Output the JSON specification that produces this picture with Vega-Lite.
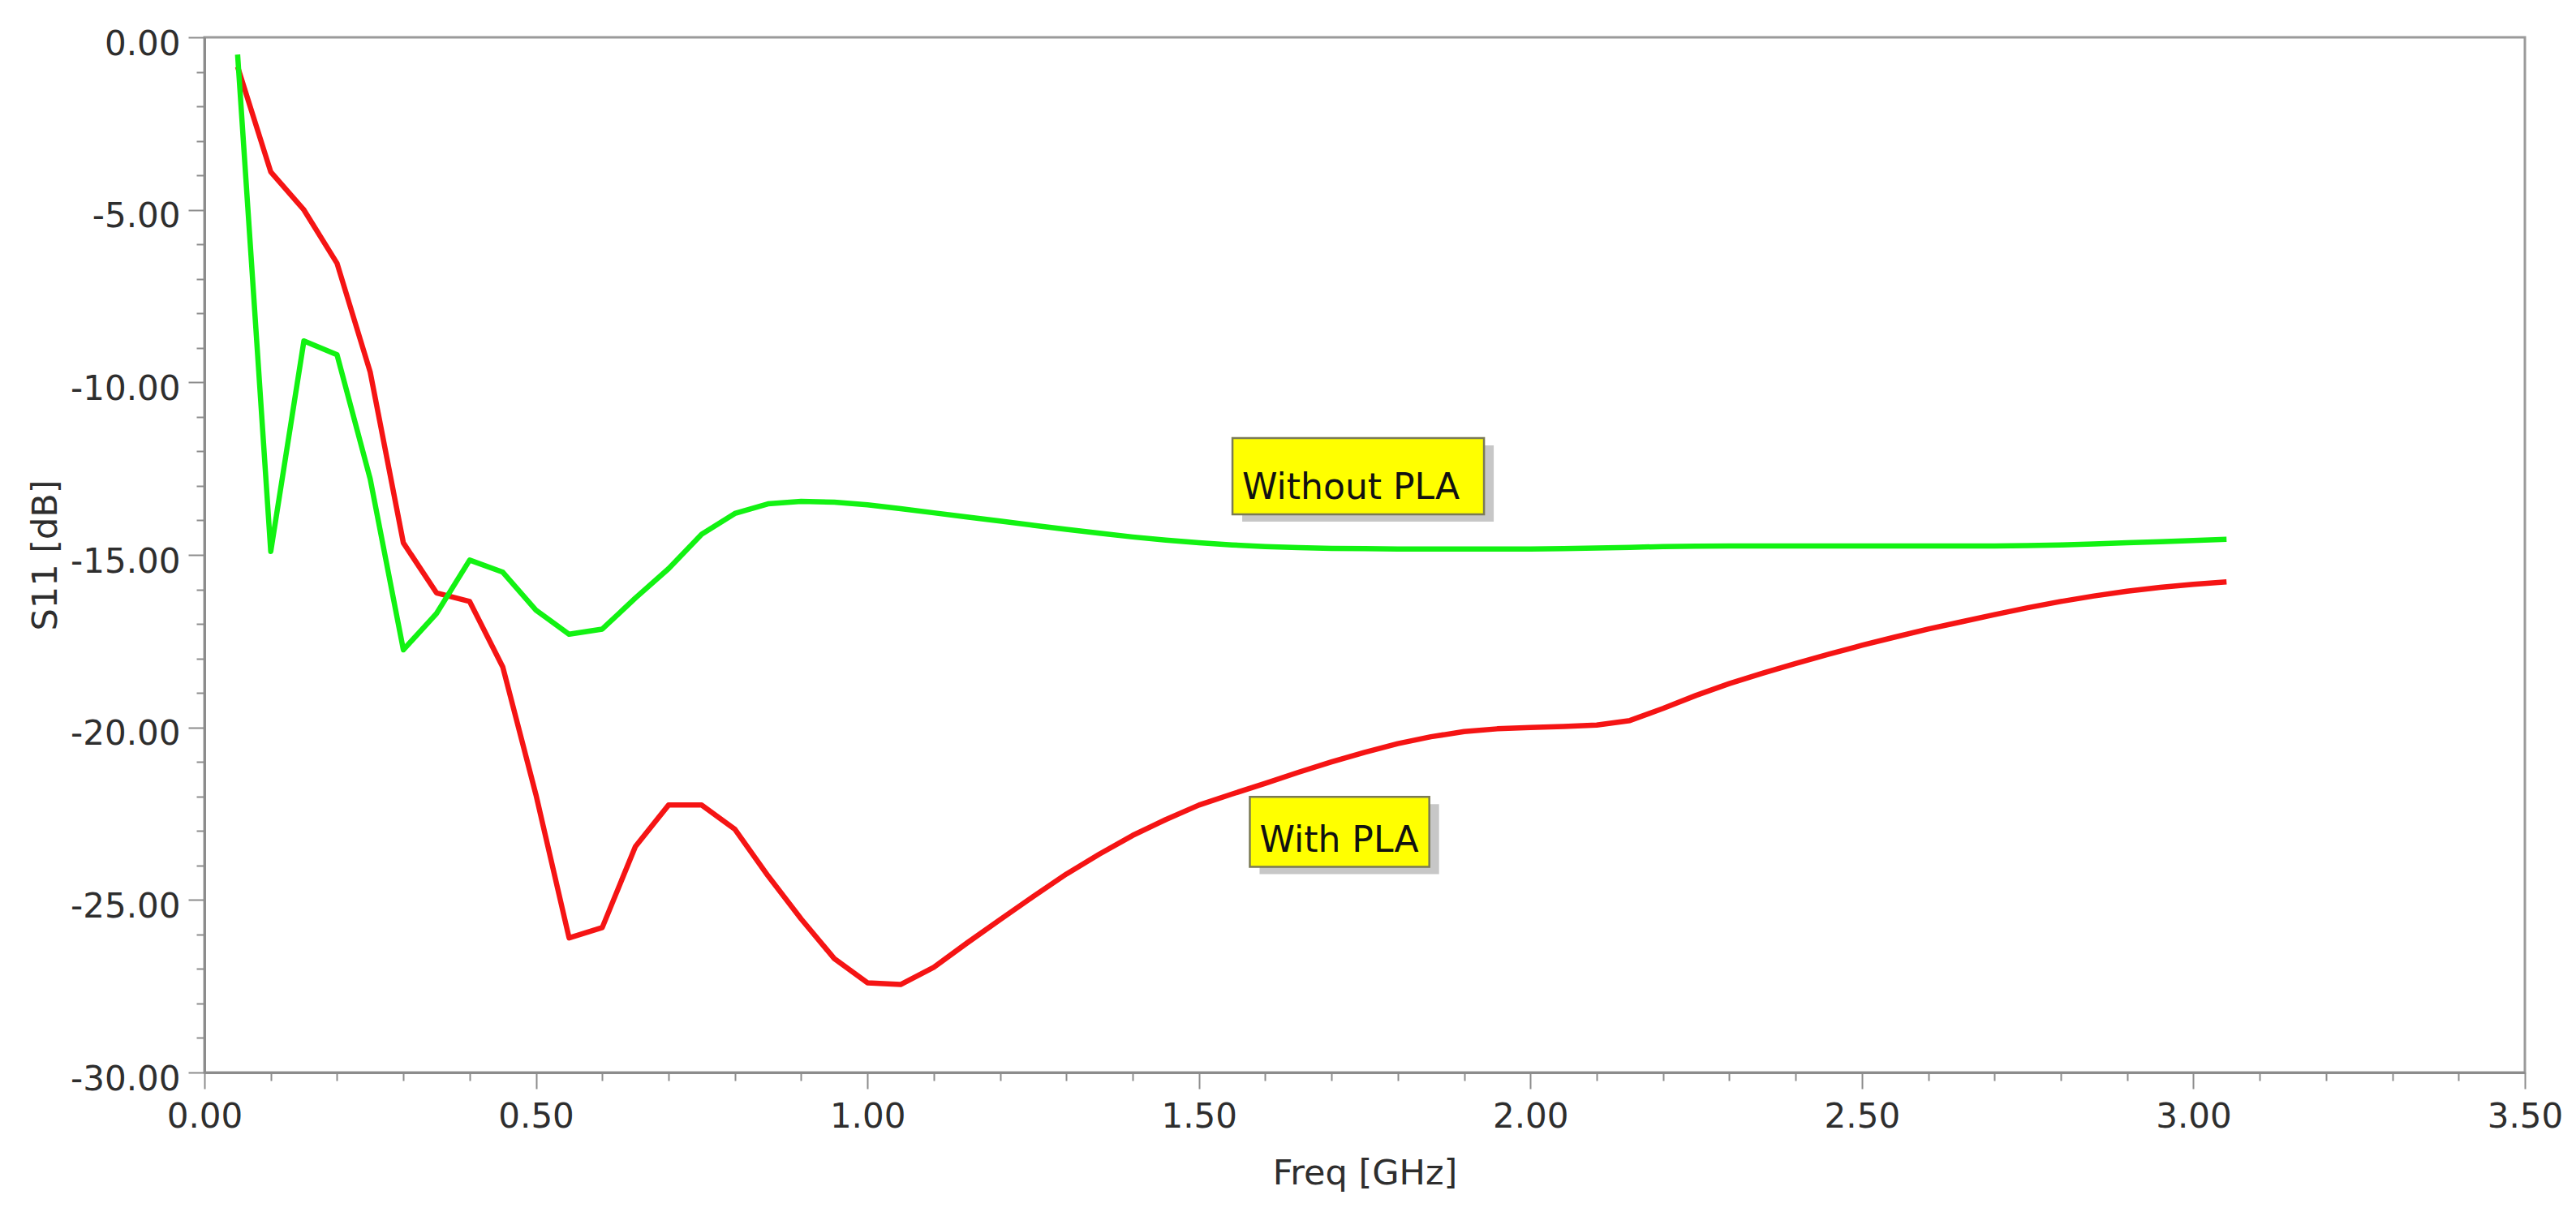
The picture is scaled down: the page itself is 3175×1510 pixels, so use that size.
{
  "$schema": "https://vega.github.io/schema/vega-lite/v6.json",
  "width": 2860,
  "height": 1276,
  "autosize": {"type": "none"},
  "padding": {"left": 252, "top": 46, "right": 63, "bottom": 188},
  "background": "white",
  "config": {
    "view": {"stroke": "#9a9a9a", "strokeWidth": 3},
    "axis": {
      "domainColor": "#8c8c8c",
      "domainWidth": 3,
      "tickColor": "#8c8c8c",
      "tickWidth": 2,
      "labelFont": "DejaVu Sans",
      "labelFontSize": 42,
      "labelColor": "#2e2e2e",
      "titleFont": "DejaVu Sans",
      "titleFontSize": 43,
      "titleFontWeight": "normal",
      "titleColor": "#2e2e2e",
      "grid": false
    }
  },
  "datasets": {
    "curves": [
      {"series": "With PLA", "f": 0.05, "v": -0.85},
      {"series": "With PLA", "f": 0.10, "v": -3.9},
      {"series": "With PLA", "f": 0.15, "v": -5.0},
      {"series": "With PLA", "f": 0.20, "v": -6.55},
      {"series": "With PLA", "f": 0.25, "v": -9.7},
      {"series": "With PLA", "f": 0.30, "v": -14.65},
      {"series": "With PLA", "f": 0.35, "v": -16.1},
      {"series": "With PLA", "f": 0.40, "v": -16.35},
      {"series": "With PLA", "f": 0.45, "v": -18.25},
      {"series": "With PLA", "f": 0.50, "v": -21.95},
      {"series": "With PLA", "f": 0.55, "v": -26.1},
      {"series": "With PLA", "f": 0.60, "v": -25.8},
      {"series": "With PLA", "f": 0.65, "v": -23.45},
      {"series": "With PLA", "f": 0.70, "v": -22.25},
      {"series": "With PLA", "f": 0.75, "v": -22.25},
      {"series": "With PLA", "f": 0.80, "v": -22.95},
      {"series": "With PLA", "f": 0.85, "v": -24.3},
      {"series": "With PLA", "f": 0.90, "v": -25.55},
      {"series": "With PLA", "f": 0.95, "v": -26.7},
      {"series": "With PLA", "f": 1.00, "v": -27.4},
      {"series": "With PLA", "f": 1.05, "v": -27.45},
      {"series": "With PLA", "f": 1.10, "v": -26.95},
      {"series": "With PLA", "f": 1.15, "v": -26.25},
      {"series": "With PLA", "f": 1.20, "v": -25.57},
      {"series": "With PLA", "f": 1.25, "v": -24.9},
      {"series": "With PLA", "f": 1.30, "v": -24.25},
      {"series": "With PLA", "f": 1.35, "v": -23.67},
      {"series": "With PLA", "f": 1.40, "v": -23.13},
      {"series": "With PLA", "f": 1.45, "v": -22.67},
      {"series": "With PLA", "f": 1.50, "v": -22.25},
      {"series": "With PLA", "f": 1.55, "v": -21.93},
      {"series": "With PLA", "f": 1.60, "v": -21.62},
      {"series": "With PLA", "f": 1.65, "v": -21.3},
      {"series": "With PLA", "f": 1.70, "v": -21.0},
      {"series": "With PLA", "f": 1.75, "v": -20.72},
      {"series": "With PLA", "f": 1.80, "v": -20.47},
      {"series": "With PLA", "f": 1.85, "v": -20.27},
      {"series": "With PLA", "f": 1.90, "v": -20.12},
      {"series": "With PLA", "f": 1.95, "v": -20.04},
      {"series": "With PLA", "f": 2.00, "v": -20.0},
      {"series": "With PLA", "f": 2.05, "v": -19.97},
      {"series": "With PLA", "f": 2.10, "v": -19.93},
      {"series": "With PLA", "f": 2.15, "v": -19.8},
      {"series": "With PLA", "f": 2.20, "v": -19.45},
      {"series": "With PLA", "f": 2.25, "v": -19.07},
      {"series": "With PLA", "f": 2.30, "v": -18.73},
      {"series": "With PLA", "f": 2.35, "v": -18.43},
      {"series": "With PLA", "f": 2.40, "v": -18.15},
      {"series": "With PLA", "f": 2.45, "v": -17.88},
      {"series": "With PLA", "f": 2.50, "v": -17.62},
      {"series": "With PLA", "f": 2.55, "v": -17.38},
      {"series": "With PLA", "f": 2.60, "v": -17.15},
      {"series": "With PLA", "f": 2.65, "v": -16.94},
      {"series": "With PLA", "f": 2.70, "v": -16.73},
      {"series": "With PLA", "f": 2.75, "v": -16.53},
      {"series": "With PLA", "f": 2.80, "v": -16.35},
      {"series": "With PLA", "f": 2.85, "v": -16.19},
      {"series": "With PLA", "f": 2.90, "v": -16.05},
      {"series": "With PLA", "f": 2.95, "v": -15.94},
      {"series": "With PLA", "f": 3.00, "v": -15.85},
      {"series": "With PLA", "f": 3.05, "v": -15.78},
      {"series": "Without PLA", "f": 0.05, "v": -0.5},
      {"series": "Without PLA", "f": 0.10, "v": -14.9},
      {"series": "Without PLA", "f": 0.15, "v": -8.8},
      {"series": "Without PLA", "f": 0.20, "v": -9.2},
      {"series": "Without PLA", "f": 0.25, "v": -12.8},
      {"series": "Without PLA", "f": 0.30, "v": -17.75},
      {"series": "Without PLA", "f": 0.35, "v": -16.7},
      {"series": "Without PLA", "f": 0.40, "v": -15.15},
      {"series": "Without PLA", "f": 0.45, "v": -15.5},
      {"series": "Without PLA", "f": 0.50, "v": -16.6},
      {"series": "Without PLA", "f": 0.55, "v": -17.3},
      {"series": "Without PLA", "f": 0.60, "v": -17.15},
      {"series": "Without PLA", "f": 0.65, "v": -16.25},
      {"series": "Without PLA", "f": 0.70, "v": -15.4},
      {"series": "Without PLA", "f": 0.75, "v": -14.4},
      {"series": "Without PLA", "f": 0.80, "v": -13.8},
      {"series": "Without PLA", "f": 0.85, "v": -13.52},
      {"series": "Without PLA", "f": 0.90, "v": -13.45},
      {"series": "Without PLA", "f": 0.95, "v": -13.47},
      {"series": "Without PLA", "f": 1.00, "v": -13.55},
      {"series": "Without PLA", "f": 1.05, "v": -13.66},
      {"series": "Without PLA", "f": 1.10, "v": -13.78},
      {"series": "Without PLA", "f": 1.15, "v": -13.9},
      {"series": "Without PLA", "f": 1.20, "v": -14.02},
      {"series": "Without PLA", "f": 1.25, "v": -14.14},
      {"series": "Without PLA", "f": 1.30, "v": -14.26},
      {"series": "Without PLA", "f": 1.35, "v": -14.37},
      {"series": "Without PLA", "f": 1.40, "v": -14.48},
      {"series": "Without PLA", "f": 1.45, "v": -14.57},
      {"series": "Without PLA", "f": 1.50, "v": -14.65},
      {"series": "Without PLA", "f": 1.55, "v": -14.71},
      {"series": "Without PLA", "f": 1.60, "v": -14.76},
      {"series": "Without PLA", "f": 1.65, "v": -14.79},
      {"series": "Without PLA", "f": 1.70, "v": -14.81},
      {"series": "Without PLA", "f": 1.75, "v": -14.82},
      {"series": "Without PLA", "f": 1.80, "v": -14.83},
      {"series": "Without PLA", "f": 1.85, "v": -14.83},
      {"series": "Without PLA", "f": 1.90, "v": -14.83},
      {"series": "Without PLA", "f": 1.95, "v": -14.83},
      {"series": "Without PLA", "f": 2.00, "v": -14.83},
      {"series": "Without PLA", "f": 2.05, "v": -14.82},
      {"series": "Without PLA", "f": 2.10, "v": -14.8},
      {"series": "Without PLA", "f": 2.15, "v": -14.78},
      {"series": "Without PLA", "f": 2.20, "v": -14.76},
      {"series": "Without PLA", "f": 2.25, "v": -14.75},
      {"series": "Without PLA", "f": 2.30, "v": -14.74},
      {"series": "Without PLA", "f": 2.35, "v": -14.74},
      {"series": "Without PLA", "f": 2.40, "v": -14.74},
      {"series": "Without PLA", "f": 2.45, "v": -14.74},
      {"series": "Without PLA", "f": 2.50, "v": -14.74},
      {"series": "Without PLA", "f": 2.55, "v": -14.74},
      {"series": "Without PLA", "f": 2.60, "v": -14.74},
      {"series": "Without PLA", "f": 2.65, "v": -14.74},
      {"series": "Without PLA", "f": 2.70, "v": -14.74},
      {"series": "Without PLA", "f": 2.75, "v": -14.73},
      {"series": "Without PLA", "f": 2.80, "v": -14.71},
      {"series": "Without PLA", "f": 2.85, "v": -14.68},
      {"series": "Without PLA", "f": 2.90, "v": -14.65},
      {"series": "Without PLA", "f": 2.95, "v": -14.62},
      {"series": "Without PLA", "f": 3.00, "v": -14.58},
      {"series": "Without PLA", "f": 3.05, "v": -14.55}
    ],
    "notes": [
      {"label": "Without PLA", "f": 1.5506, "f2": 1.930, "v": -11.615, "v2": -13.825},
      {"label": "With PLA", "f": 1.5768, "f2": 1.8475, "v": -22.01, "v2": -24.04}
    ]
  },
  "layer": [
    {
      "data": {"name": "curves"},
      "mark": {"type": "line", "strokeWidth": 6.5, "strokeJoin": "round", "clip": true},
      "encoding": {
        "x": {
          "field": "f",
          "type": "quantitative",
          "scale": {"domain": [0, 3.5], "nice": false, "zero": false},
          "axis": {
            "title": "Freq [GHz]",
            "orient": "bottom",
            "values": [0, 0.1, 0.2, 0.3, 0.4, 0.5, 0.6, 0.7, 0.8, 0.9, 1.0, 1.1, 1.2, 1.3, 1.4, 1.5, 1.6, 1.7, 1.8, 1.9, 2.0, 2.1, 2.2, 2.3, 2.4, 2.5, 2.6, 2.7, 2.8, 2.9, 3.0, 3.1, 3.2, 3.3, 3.4, 3.5],
            "labelExpr": "abs(datum.value*2 - round(datum.value*2)) < 0.001 ? format(datum.value, '.2f') : ''",
            "tickSize": {"condition": {"test": "abs(datum.value*2 - round(datum.value*2)) < 0.001", "value": 20}, "value": 10},
            "labelOverlap": false,
            "labelFlush": false,
            "labelPadding": 14,
            "titlePadding": 28
          }
        },
        "y": {
          "field": "v",
          "type": "quantitative",
          "scale": {"domain": [-30, 0], "nice": false, "zero": false},
          "axis": {
            "title": "S11 [dB]",
            "orient": "left",
            "values": [-30, -29, -28, -27, -26, -25, -24, -23, -22, -21, -20, -19, -18, -17, -16, -15, -14, -13, -12, -11, -10, -9, -8, -7, -6, -5, -4, -3, -2, -1, 0],
            "labelExpr": "abs(datum.value % 5) < 0.001 ? (datum.value < 0 ? '-' : '') + format(abs(datum.value), '.2f') : ''",
            "tickSize": {"condition": {"test": "abs(datum.value % 5) < 0.001", "value": 20}, "value": 10},
            "labelOverlap": false,
            "labelFlush": false,
            "labelPadding": 10,
            "labelOffset": 8,
            "titlePadding": 8
          }
        },
        "color": {
          "field": "series",
          "type": "nominal",
          "scale": {"domain": ["With PLA", "Without PLA"], "range": ["#f51414", "#12f212"]},
          "legend": null
        }
      }
    },
    {
      "data": {"name": "notes"},
      "mark": {"type": "rect", "fill": "#b4b4b4", "opacity": 0.75, "xOffset": 12, "x2Offset": 12, "yOffset": 9, "y2Offset": 9},
      "encoding": {
        "x": {"field": "f", "type": "quantitative"},
        "x2": {"field": "f2"},
        "y": {"field": "v", "type": "quantitative"},
        "y2": {"field": "v2"}
      }
    },
    {
      "data": {"name": "notes"},
      "mark": {"type": "rect", "fill": "#ffff00", "stroke": "#7a7a55", "strokeWidth": 2.5},
      "encoding": {
        "x": {"field": "f", "type": "quantitative"},
        "x2": {"field": "f2"},
        "y": {"field": "v", "type": "quantitative"},
        "y2": {"field": "v2"}
      }
    },
    {
      "data": {"name": "notes"},
      "mark": {"type": "text", "font": "DejaVu Sans", "fontSize": 44, "color": "#111111", "align": "left", "baseline": "alphabetic", "dx": 12, "dy": -19},
      "encoding": {
        "x": {"field": "f", "type": "quantitative"},
        "y": {"field": "v2", "type": "quantitative"},
        "text": {"field": "label"}
      }
    }
  ]
}
